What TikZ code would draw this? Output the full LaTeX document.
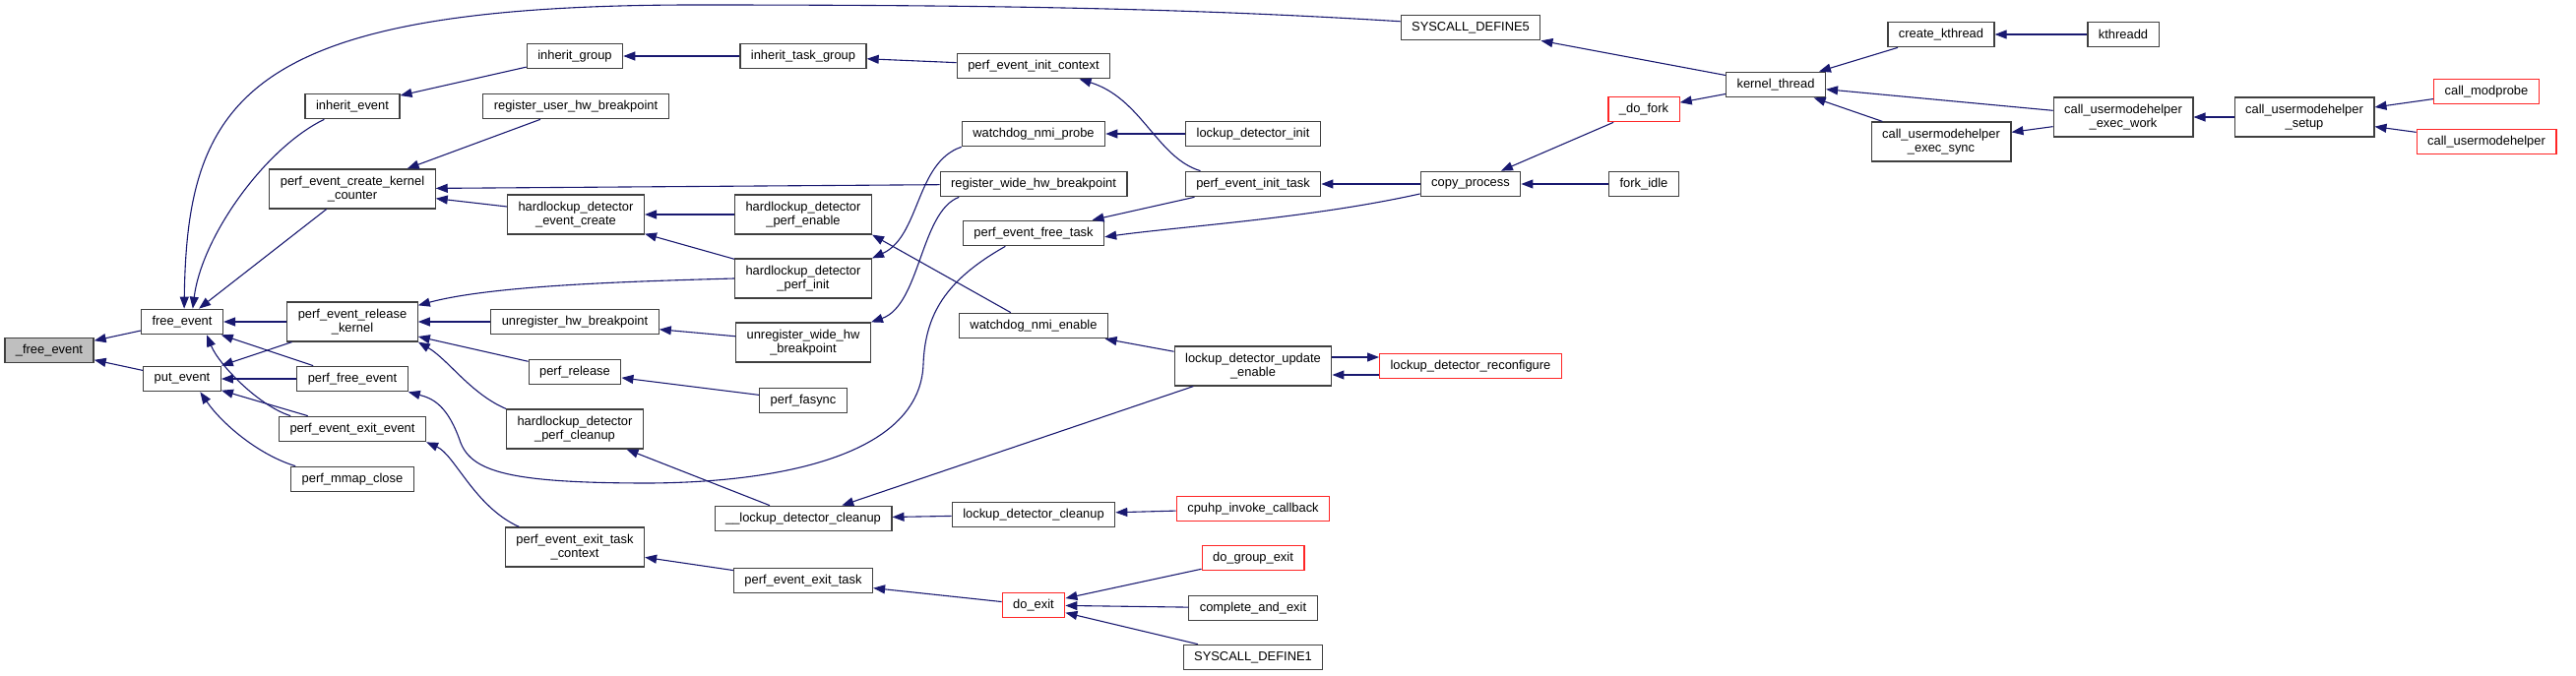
\documentclass[tikz,border=0pt]{standalone}
\usepackage{fontspec}
\setmainfont{Liberation Sans}
\usetikzlibrary{arrows.meta}
\definecolor{edgeblue}{HTML}{191970}

\begin{document}
\begin{tikzpicture}[
  x=1pt, y=-1pt,
  fn/.style={rectangle, draw=black!75, line width=1.2pt, fill=white, align=center, inner xsep=11pt, inner ysep=0pt, minimum height=25.5pt, font=\fontsize{12.9}{14}\selectfont},
  two/.style={minimum height=40pt},
  hot/.style={draw=red!85!white},
  root/.style={fill=black!25},
  arrow/.style={-{Triangle[length=12pt,width=9pt]}, draw=edgeblue, line width=1.1pt},
]
\useasboundingbox (0,0) rectangle (2617,687);

% === Column 0-2 ===
\node[fn, root] (root) at (50,356) {\_free\_event};
\node[fn] (free) at (185,327) {free\_event};
\node[fn] (put) at (185,385) {put\_event};
\node[fn] (inhev) at (358,108) {inherit\_event};
\node[fn, two] (pecreate) at (358,192) {perf\_event\_create\_kernel\\\_counter};
\node[fn, two] (perelk) at (358,327) {perf\_event\_release\\\_kernel};
\node[fn] (pfree) at (358,385) {perf\_free\_event};
\node[fn] (pexitev) at (358,436) {perf\_event\_exit\_event};
\node[fn] (mmapcl) at (358,487) {perf\_mmap\_close};

% === Column 3 ===
\node[fn] (inhgrp) at (584,57) {inherit\_group};
\node[fn] (reguser) at (585,108) {register\_user\_hw\_breakpoint};
\node[fn, two] (hlcreate) at (585,218) {hardlockup\_detector\\\_event\_create};
\node[fn] (unreghw) at (584,327) {unregister\_hw\_breakpoint};
\node[fn] (prelease) at (584,378) {perf\_release};
\node[fn, two] (hlcleanup) at (584,436) {hardlockup\_detector\\\_perf\_cleanup};
\node[fn, two] (pexitctx) at (584,556) {perf\_event\_exit\_task\\\_context};

% === Column 4 ===
\node[fn] (inhtask) at (816,57) {inherit\_task\_group};
\node[fn, two] (hlenable) at (816,218) {hardlockup\_detector\\\_perf\_enable};
\node[fn, two] (hlinit) at (816,283) {hardlockup\_detector\\\_perf\_init};
\node[fn, two] (unregwide) at (816,348) {unregister\_wide\_hw\\\_breakpoint};
\node[fn] (fasync) at (816,407) {perf\_fasync};
\node[fn] (lkclean2) at (816,527) {\_\_lockup\_detector\_cleanup};
\node[fn] (pexittask) at (816,590) {perf\_event\_exit\_task};

% === Column 5 ===
\node[fn] (initctx) at (1050,67) {perf\_event\_init\_context};
\node[fn] (nmiprobe) at (1050,136) {watchdog\_nmi\_probe};
\node[fn] (regwide) at (1050,187) {register\_wide\_hw\_breakpoint};
\node[fn] (freetask) at (1050,237) {perf\_event\_free\_task};
\node[fn] (nmienable) at (1050,331) {watchdog\_nmi\_enable};
\node[fn] (lkclean) at (1050,523) {lockup\_detector\_cleanup};
\node[fn, hot] (doexit) at (1050,615) {do\_exit};

% === Column 6 ===
\node[fn] (lkinit) at (1273,136) {lockup\_detector\_init};
\node[fn] (inittask) at (1273,187) {perf\_event\_init\_task};
\node[fn, two] (lkupd) at (1273,372) {lockup\_detector\_update\\\_enable};
\node[fn, hot] (cpuhp) at (1273,517) {cpuhp\_invoke\_callback};
\node[fn, hot] (grpexit) at (1273,567) {do\_group\_exit};
\node[fn] (complexit) at (1273,618) {complete\_and\_exit};
\node[fn] (sysdef1) at (1273,668) {SYSCALL\_DEFINE1};

% === Column 7-8 ===
\node[fn] (sysdef5) at (1494,28) {SYSCALL\_DEFINE5};
\node[fn] (copyproc) at (1494,187) {copy\_process};
\node[fn, hot] (lkreconf) at (1494,372) {lockup\_detector\_reconfigure};
\node[fn, hot] (dofork) at (1670,111) {\_do\_fork};
\node[fn] (forkidle) at (1670,187) {fork\_idle};

% === Column 9-13 ===
\node[fn] (kthread) at (1804,86) {kernel\_thread};
\node[fn] (createk) at (1972,35) {create\_kthread};
\node[fn, two] (umhsync) at (1972,144) {call\_usermodehelper\\\_exec\_sync};
\node[fn] (kthreadd) at (2157,35) {kthreadd};
\node[fn, two] (umhwork) at (2157,119) {call\_usermodehelper\\\_exec\_work};
\node[fn, two] (umhsetup) at (2341,119) {call\_usermodehelper\\\_setup};
\node[fn, hot] (modprobe) at (2526,93) {call\_modprobe};
\node[fn, hot] (umh) at (2526,144) {call\_usermodehelper};

% === Calls into free_event / put_event ===
\draw[arrow] (free) -- (root);
\draw[arrow] (put) -- (root);
\draw[arrow] (sysdef5.175) .. controls (1200,8) and (1000,5) .. (700,5) .. controls (250,6) and (190,100) .. (free.81);
\draw[arrow] (inhev.205) .. controls (270,150) and (205,240) .. (free.51);
\draw[arrow] (pecreate) -- (free);
\draw[arrow] (perelk) -- (free);
\draw[arrow] (pfree) -- (free);
\draw[arrow] (pexitev.168) .. controls (262,412) and (222,370) .. (free.332);
\draw[arrow] (perelk) -- (put);
\draw[arrow] (pfree) -- (put);
\draw[arrow] (pexitev) -- (put);
\draw[arrow] (mmapcl.167) .. controls (262,462) and (225,430) .. (put.324);

% === Column 3 to 2 ===
\draw[arrow] (inhgrp) -- (inhev);
\draw[arrow] (reguser) -- (pecreate);
\draw[arrow] (regwide) -- (pecreate);
\draw[arrow] (hlcreate) -- (pecreate);
\draw[arrow] (hlinit.west) .. controls (640,286) and (500,290) .. (perelk.14);
\draw[arrow] (unreghw) -- (perelk);
\draw[arrow] (prelease) -- (perelk);
\draw[arrow] (hlcleanup.north west) .. controls (478,400) and (455,365) .. (perelk.south east);
\draw[arrow] (freetask.205) .. controls (960,285) and (940,320) .. (938,370)
  .. controls (935,460) and (800,490) .. (660,491)
  .. controls (520,491) and (480,480) .. (468,450)
  .. controls (455,412) and (440,405) .. (pfree.south east);
\draw[arrow] (pexitctx.160) .. controls (482,515) and (462,462) .. (pexitev.south east);

% === Column 4 to 3 ===
\draw[arrow] (inhtask) -- (inhgrp);
\draw[arrow] (hlenable) -- (hlcreate);
\draw[arrow] (hlinit) -- (hlcreate);
\draw[arrow] (unregwide) -- (unreghw);
\draw[arrow] (fasync) -- (prelease);
\draw[arrow] (lkclean2) -- (hlcleanup);
\draw[arrow] (pexittask) -- (pexitctx);

% === Column 5 to 4 ===
\draw[arrow] (initctx) -- (inhtask);
\draw[arrow] (nmiprobe.south west) .. controls (930,165) and (935,240) .. (hlinit.north east);
\draw[arrow] (regwide.190) .. controls (935,215) and (935,310) .. (unregwide.north east);
\draw[arrow] (nmienable.150) -- (hlenable.south east);
\draw[arrow] (lkclean) -- (lkclean2);
\draw[arrow] (doexit) -- (pexittask);

% === Column 6 to 5 ===
\draw[arrow] (lkinit) -- (nmiprobe);
\draw[arrow] (inittask.166) .. controls (1175,160) and (1160,100) .. (initctx.344);
\draw[arrow] (inittask) -- (freetask);
\draw[arrow] (lkupd) -- (nmienable);
\draw[arrow] (lkupd) -- (lkclean2);
\draw[arrow] (cpuhp) -- (lkclean);
\draw[arrow] (grpexit) -- (doexit);
\draw[arrow] (complexit) -- (doexit);
\draw[arrow] (sysdef1) -- (doexit);

% === Column 7+ ===
\draw[arrow] (copyproc.191) .. controls (1330,222) and (1200,230) .. (freetask.357);
\draw[arrow] (copyproc) -- (inittask);
\draw[arrow] ([yshift=9pt]lkupd.east) -- ([yshift=9pt]lkreconf.west);
\draw[arrow] ([yshift=-9pt]lkreconf.west) -- ([yshift=-9pt]lkupd.east);
\draw[arrow] (kthread) -- (sysdef5);
\draw[arrow] (kthread) -- (dofork);
\draw[arrow] (dofork) -- (copyproc);
\draw[arrow] (forkidle) -- (copyproc);
\draw[arrow] (createk) -- (kthread);
\draw[arrow] (umhwork) -- (kthread);
\draw[arrow] (umhsync) -- (kthread);
\draw[arrow] (kthreadd) -- (createk);
\draw[arrow] (umhwork) -- (umhsync);
\draw[arrow] (umhsetup) -- (umhwork);
\draw[arrow] (modprobe) -- (umhsetup);
\draw[arrow] (umh) -- (umhsetup);

\end{tikzpicture}
\end{document}
